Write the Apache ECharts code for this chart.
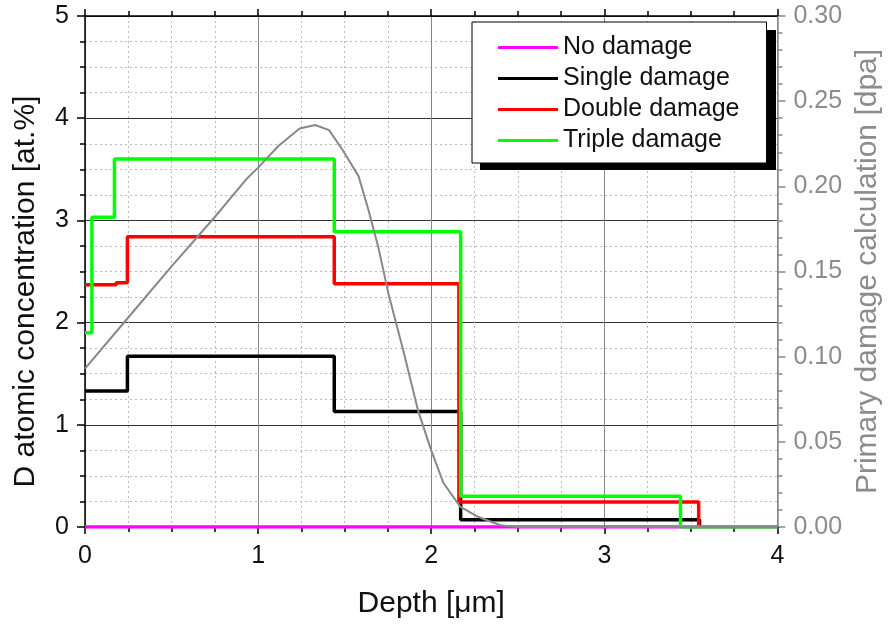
<!DOCTYPE html>
<html>
<head>
<meta charset="utf-8">
<script src="https://cdn.jsdelivr.net/npm/echarts@6/dist/echarts.min.js"></script>
<style>html,body{margin:0;padding:0;background:#fff}#chart{width:891px;height:626px}</style>
</head>
<body>
<div id="chart"></div>
<script>
// ---- data ----
const seriesNames = ['No damage', 'Single damage', 'Double damage', 'Triple damage'];
const noDamage = [[0, 0], [4, 0]];
const singleDamage = [[0, 1.33], [0.245, 1.33], [0.245, 1.67], [1.44, 1.67], [1.44, 1.13], [2.17, 1.13], [2.17, 0.07], [3.55, 0.07], [3.55, 0]];
const doubleDamage = [[0, 2.37], [0.18, 2.37], [0.18, 2.39], [0.245, 2.39], [0.245, 2.84], [1.44, 2.84], [1.44, 2.38], [2.16, 2.38], [2.16, 0.245], [3.545, 0.245], [3.545, 0]];
const tripleDamage = [[0, 1.9], [0.04, 1.9], [0.04, 3.03], [0.17, 3.03], [0.17, 3.6], [1.44, 3.6], [1.44, 2.89], [2.17, 2.89], [2.17, 0.3], [3.44, 0.3], [3.44, 0], [4, 0]];
const dpaDepth = [0, 0.25, 0.5, 0.75, 0.93, 1.0, 1.12, 1.24, 1.33, 1.41, 1.49, 1.58, 1.638, 1.695, 1.753, 1.84, 1.925, 2.0, 2.07, 2.167, 2.27, 2.4, 2.5, 4.0];
const dpaValues = [0.093, 0.123, 0.153, 0.182, 0.204, 0.211, 0.224, 0.234, 0.236, 0.233, 0.221, 0.206, 0.186, 0.164, 0.137, 0.103, 0.068, 0.045, 0.026, 0.012, 0.006, 0.001, 0, 0];
const xTitle = 'Depth [μm]';
const yTitle = 'D atomic concentration [at.%]';
const y2Title = 'Primary damage calculation [dpa]';
const colors = ['#ff00ff', '#000000', '#ff0000', '#00ff00'];

const FONT = "'Liberation Sans', Arial, sans-serif";
const chart = echarts.init(document.getElementById('chart'), null, {renderer: 'canvas'});

const stepSeries = [noDamage, singleDamage, doubleDamage, tripleDamage].map((d, i) => ({
  name: seriesNames[i], type: 'line', data: d, yAxisIndex: 0, xAxisIndex: 0,
  showSymbol: false, symbol: 'none', lineStyle: {color: colors[i], width: 3.5}, itemStyle: {color: colors[i]},
  z: 2 + i * 0.1, animation: false
}));

const option = {
  animation: false,
  grid: {left: 85, right: 110, top: 16, bottom: 99, containLabel: false},
  legend: {
    data: seriesNames, orient: 'vertical', left: 472, top: 22,
    padding: [13, 27, 10, 26], itemGap: 6, itemWidth: 60, itemHeight: 3, icon: 'rect',
    backgroundColor: '#fff', borderColor: '#000', borderWidth: 1, borderRadius: 0,
    textStyle: {fontFamily: FONT, fontSize: 25, color: '#111'}, z: 10
  },
  graphic: [{type: 'rect', shape: {x: 480, y: 30, width: 296, height: 140}, style: {fill: '#000'}, z: 8, silent: true}],
  xAxis: [{
    type: 'value', min: 0, max: 4, interval: 1, position: 'bottom',
    name: xTitle, nameLocation: 'middle', nameGap: 62,
    nameTextStyle: {fontFamily: FONT, fontSize: 30, color: '#111'},
    axisLine: {show: true, onZero: false, lineStyle: {color: '#000', width: 1.5}},
    axisTick: {show: true, inside: false, length: 7, lineStyle: {color: '#000', width: 1.5}},
    minorTick: {show: true, splitNumber: 4, length: 5, lineStyle: {color: '#000', width: 1.5}},
    axisLabel: {fontFamily: FONT, fontSize: 25, color: '#111', margin: 17},
    splitLine: {show: true, lineStyle: {color: '#888', width: 1}},
    minorSplitLine: {show: true, lineStyle: {color: '#bbb', type: [2, 3], width: 1}}
  }, {
    type: 'value', min: 0, max: 4, interval: 1, position: 'top',
    axisLine: {show: true, onZero: false, lineStyle: {color: '#000', width: 1.5}},
    axisTick: {show: true, inside: false, length: 7, lineStyle: {color: '#000', width: 1.5}},
    minorTick: {show: true, splitNumber: 4, length: 5, lineStyle: {color: '#000', width: 1.5}},
    axisLabel: {show: false}, splitLine: {show: false}
  }],
  yAxis: [{
    type: 'value', min: 0, max: 5, interval: 1, position: 'left',
    name: yTitle, nameLocation: 'middle', nameGap: 44,
    nameTextStyle: {fontFamily: FONT, fontSize: 30, color: '#111', padding: [0, 40, 0, 0]},
    axisLine: {show: true, onZero: false, lineStyle: {color: '#000', width: 1.5}},
    axisTick: {show: true, inside: false, length: 8, lineStyle: {color: '#000', width: 1.5}},
    minorTick: {show: true, splitNumber: 4, length: 5, lineStyle: {color: '#000', width: 1.5}},
    axisLabel: {fontFamily: FONT, fontSize: 25, color: '#111', margin: 16},
    splitLine: {show: true, lineStyle: {color: '#333', width: 1}},
    minorSplitLine: {show: true, lineStyle: {color: '#bbb', type: [2, 3], width: 1}}
  }, {
    type: 'value', min: 0, max: 0.3, interval: 0.05, position: 'right',
    name: y2Title, nameLocation: 'middle', nameGap: 74,
    nameTextStyle: {fontFamily: FONT, fontSize: 30, color: '#8c8c8c'},
    axisLine: {show: true, onZero: false, lineStyle: {color: '#888', width: 1.5}},
    axisTick: {show: true, inside: false, length: 8, lineStyle: {color: '#888', width: 1.5}},
    minorTick: {show: true, splitNumber: 5, length: 5, lineStyle: {color: '#888', width: 1.5}},
    axisLabel: {fontFamily: FONT, fontSize: 25, color: '#8c8c8c', margin: 16, formatter: v => v.toFixed(2)},
    splitLine: {show: false}
  }],
  series: stepSeries.concat([{
    name: 'dpa', type: 'line', yAxisIndex: 1, xAxisIndex: 0,
    data: dpaDepth.map((d, i) => [d, dpaValues[i]]),
    smooth: false, showSymbol: false, symbol: 'none',
    lineStyle: {color: '#888', width: 2}, z: 3
  }])
};
chart.setOption(option);
</script>
</body>
</html>
